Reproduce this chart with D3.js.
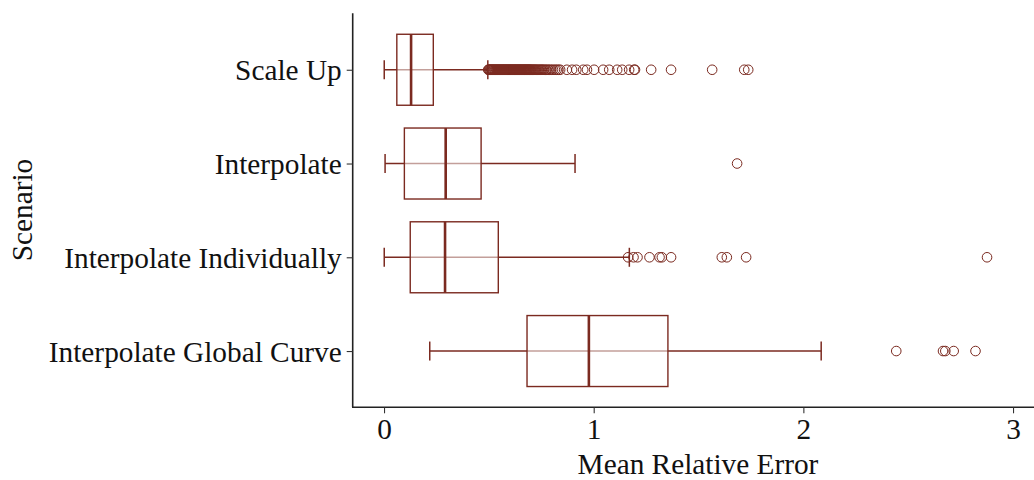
<!DOCTYPE html>
<html><head><meta charset="utf-8">
<script src="https://cdn.jsdelivr.net/npm/d3@7"></script>
<style>body{margin:0;background:#fff}svg{display:block}</style>
</head><body><svg id="c" width="1034" height="480"></svg>
<script>
const categories = ["Scale Up","Interpolate","Interpolate Individually","Interpolate Global Curve"];
const whiskerLow  = [0.001, 0.005, 0.001, 0.218];
const q1          = [0.061, 0.097, 0.125, 0.682];
const median      = [0.129, 0.294, 0.291, 0.977];
const q3          = [0.235, 0.463, 0.545, 1.354];
const whiskerHigh = [0.495, 0.911, 1.170, 2.085];
const outliersScaleUp = [0.497,0.499,0.502,0.505,0.508,0.511,0.514,0.517,0.52,0.523,0.526,0.529,0.532,0.535,0.538,0.541,0.544,0.547,0.55,0.553,0.556,0.559,0.562,0.565,0.568,0.571,0.574,0.577,0.58,0.583,0.586,0.589,0.592,0.595,0.598,0.601,0.604,0.607,0.61,0.613,0.616,0.619,0.622,0.625,0.628,0.631,0.634,0.637,0.64,0.643,0.646,0.649,0.652,0.655,0.658,0.661,0.664,0.667,0.67,0.673,0.676,0.679,0.682,0.685,0.688,0.691,0.694,0.697,0.70,0.704,0.708,0.712,0.716,0.72,0.724,0.728,0.733,0.738,0.743,0.748,0.753,0.758,0.764,0.77,0.776,0.783,0.79,0.798,0.806,0.815,0.823,0.832,0.84,0.872,0.897,0.917,0.95,0.968,1.002,1.045,1.074,1.112,1.136,1.169,1.193,1.197,1.274,1.369,1.565,1.718,1.737];
const outliersInterpolate = [1.684];
const outliersIndividually = [1.164,1.19,1.209,1.266,1.314,1.325,1.369,1.611,1.635,1.727,2.876];
const outliersGlobal = [2.443,2.666,2.677,2.717,2.821];
const outliers = [outliersScaleUp, outliersInterpolate, outliersIndividually, outliersGlobal];
const xTicks = [0,1,2,3];

const color = "#7b2a20";
const font = "'Liberation Serif', 'Times New Roman', serif";
const fs = 29.3;
const svg = d3.select("#c");
const x = d3.scaleLinear().domain([-0.148, 3.1]).range([353, 1034]);
const y = d3.scalePoint().domain(categories).range([13.5, 407.3]).padding(0.6);
const step = y.step();
const bh = step * 0.757;
const capH = 19;

const g = svg.append("g");
categories.forEach((c, i) => {
  const cy = y(c);
  const grp = g.append("g");
  grp.selectAll("circle").data(outliers[i]).join("circle")
    .attr("cx", d => x(d)).attr("cy", cy).attr("r", 4.8)
    .attr("fill", "none").attr("stroke", color).attr("stroke-width", 1);
  grp.append("line").attr("x1", x(whiskerLow[i])).attr("x2", x(whiskerHigh[i]))
    .attr("y1", cy).attr("y2", cy).attr("stroke", color).attr("stroke-width", 1.5);
  [whiskerLow[i], whiskerHigh[i]].forEach(v => {
    grp.append("line").attr("x1", x(v)).attr("x2", x(v))
      .attr("y1", cy - capH/2).attr("y2", cy + capH/2)
      .attr("stroke", color).attr("stroke-width", 1.5);
  });
  grp.append("rect").attr("x", x(q1[i])).attr("width", x(q3[i]) - x(q1[i]))
    .attr("y", cy - bh/2).attr("height", bh)
    .attr("fill", "rgba(255,255,255,0.55)").attr("stroke", color).attr("stroke-width", 1.4);
  grp.append("line").attr("x1", x(median[i])).attr("x2", x(median[i]))
    .attr("y1", cy - bh/2).attr("y2", cy + bh/2)
    .attr("stroke", color).attr("stroke-width", 2.6);
});

const xAxis = svg.append("g").attr("transform", "translate(0,407.3)")
  .call(d3.axisBottom(x).tickValues(xTicks).tickFormat(d3.format("d")).tickSize(6).tickPadding(5));
const yAxis = svg.append("g").attr("transform", "translate(352.7,0)")
  .call(d3.axisLeft(y).tickSize(6).tickPadding(5));
[xAxis, yAxis].forEach(a => {
  a.select(".domain").attr("stroke", "#222").attr("stroke-width", 1.6);
  a.selectAll(".tick line").attr("stroke", "#333").attr("stroke-width", 1.1);
  a.selectAll("text").attr("font-family", font).attr("font-size", fs).attr("fill", "#111");
});
yAxis.select(".domain").attr("d", "M0,13.3V407.3");
xAxis.select(".domain").attr("d", "M352,0H1034");
xAxis.selectAll("text").attr("dy", "0.71em");
yAxis.selectAll("text").attr("dy", "0.34em");

svg.append("text").attr("x", 698).attr("y", 474).attr("text-anchor", "middle")
  .attr("font-family", font).attr("font-size", fs).attr("fill", "#111").text("Mean Relative Error");
svg.append("text").attr("transform", "translate(32,210) rotate(-90)").attr("text-anchor", "middle")
  .attr("font-family", font).attr("font-size", fs).attr("fill", "#111").text("Scenario");
</script></body></html>
